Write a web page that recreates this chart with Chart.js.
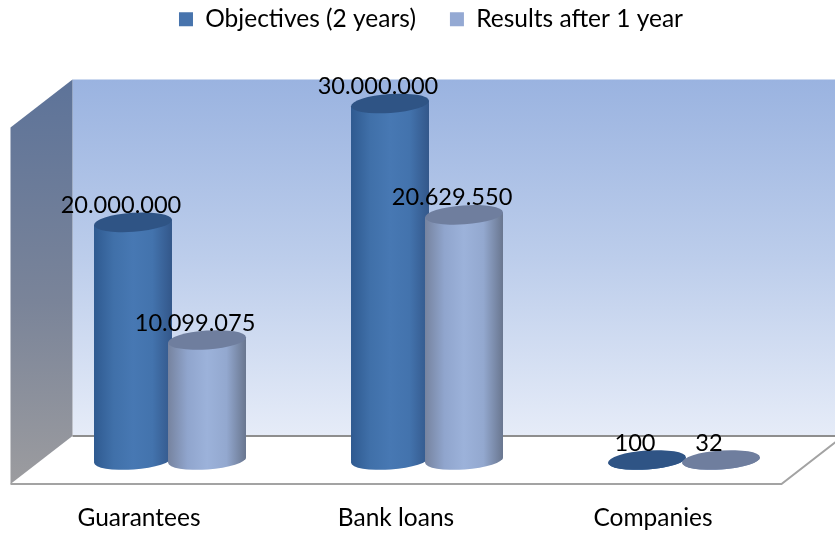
<!DOCTYPE html>
<html>
<head>
<meta charset="utf-8">
<style>
  html, body { margin: 0; padding: 0; background: #fff; }
  canvas { display: block; }
</style>
<script src="https://cdn.jsdelivr.net/npm/chart.js@4/dist/chart.umd.min.js"></script>
</head>
<body>
<canvas id="chart" width="835" height="533"></canvas>
<script>
const categories = ['Guarantees', 'Bank loans', 'Companies'];
const objectives = [20000000, 30000000, 100];
const results = [10099075, 20629550, 32];
const objectivesLabels = ['20.000.000', '30.000.000', '100'];
const resultsLabels = ['10.099.075', '20.629.550', '32'];

const FONT = 'Lato, "Open Sans", sans-serif';
const CATEGORY_PERCENT = 0.576;
const BAR_PERCENT = 1.055;
const DEPTH_X = 31;   // horizontal reach of the pseudo-3D box
const DEPTH_Y = 24;   // vertical reach of the pseudo-3D box
const CAP_RY = 9.5;
const CAP_TILT = -4 * Math.PI / 180;

const palettes = [
  { flat: '#4874ad', cap: '#2f5485', stops: ['#2f5a90', '#4070a9', '#4778b3', '#4373ad', '#33578a'] },
  { flat: '#94a9d3', cap: '#6f7e9e', stops: ['#76839f', '#90a5cd', '#9cb2da', '#93a8cf', '#69768f'] }
];

// Horizontal shading that gives each bar its rounded look
function cylinderFill(ctx) {
  const palette = palettes[ctx.datasetIndex];
  if (ctx.dataIndex === undefined) return palette.flat;
  const chart = ctx.chart;
  const xScale = chart.scales.x;
  if (!xScale) return palette.flat;
  const band = xScale.width / categories.length * CATEGORY_PERCENT / 2;
  const cx = xScale.getPixelForValue(ctx.dataIndex) + (ctx.datasetIndex - 0.5) * band;
  const half = band * BAR_PERCENT / 2;
  if (!Number.isFinite(cx) || !Number.isFinite(half)) return palette.flat;
  const g = chart.ctx.createLinearGradient(cx - half, 0, cx + half, 0);
  palette.stops.forEach((c, i) => g.addColorStop(i / (palette.stops.length - 1), c));
  return g;
}

// Back wall, side wall and floor around the plotting area
const boxPlugin = {
  id: 'box',
  beforeDraw(chart) {
    const { ctx, chartArea: a, width } = chart;
    const backLeft = a.left + DEPTH_X;
    const backRight = a.right + DEPTH_X;
    const frontLeft = a.left - DEPTH_X;
    const frontRight = a.right - DEPTH_X;
    const backTop = a.top - DEPTH_Y;
    const backBottom = a.bottom - DEPTH_Y;
    const frontTop = a.top + DEPTH_Y;
    const frontBottom = a.bottom + DEPTH_Y;

    ctx.save();
    const wall = ctx.createLinearGradient(0, backTop, 0, backBottom);
    wall.addColorStop(0, '#9ab3e0');
    wall.addColorStop(0.5, '#bccdeb');
    wall.addColorStop(1, '#e6ecf8');
    ctx.fillStyle = wall;
    ctx.fillRect(backLeft, backTop, width - backLeft, backBottom - backTop);

    const side = ctx.createLinearGradient(0, backTop, 0, frontBottom);
    side.addColorStop(0, '#5d7399');
    side.addColorStop(0.55, '#7a8499');
    side.addColorStop(1, '#9c9c9f');
    ctx.fillStyle = side;
    ctx.beginPath();
    ctx.moveTo(frontLeft, frontTop);
    ctx.lineTo(backLeft, backTop);
    ctx.lineTo(backLeft, backBottom);
    ctx.lineTo(frontLeft, frontBottom);
    ctx.closePath();
    ctx.fill();

    ctx.lineWidth = 2;
    ctx.strokeStyle = '#8e8e8e';
    ctx.beginPath();
    ctx.moveTo(backLeft, backBottom);
    ctx.lineTo(width, backBottom);
    ctx.stroke();

    ctx.strokeStyle = '#a3a3a3';
    ctx.beginPath();
    ctx.moveTo(frontLeft, frontBottom);
    ctx.lineTo(frontRight, frontBottom);
    ctx.lineTo(backRight, backBottom);
    ctx.stroke();
    ctx.restore();
  }
};

// Bars go back to front in series order: a clipped body plus a flat top ellipse
const cylinderPlugin = {
  id: 'cylinders',
  beforeDatasetsDraw(chart) {
    const { ctx, chartArea: a } = chart;
    chart.data.datasets.forEach((ds, di) => {
      chart.getDatasetMeta(di).data.forEach(bar => {
        const rx = bar.width / 2;
        const sx = rx * Math.cos(CAP_TILT);
        const sy = rx * Math.sin(CAP_TILT);
        ctx.save();
        const body = new Path2D();
        body.moveTo(bar.x - sx, bar.y - sy);
        body.lineTo(bar.x + sx, bar.y + sy);
        body.lineTo(bar.x + sx, bar.base + sy);
        body.ellipse(bar.x, bar.base, rx, CAP_RY, CAP_TILT, 0, Math.PI);
        body.closePath();
        ctx.fillStyle = bar.options.backgroundColor;
        ctx.fill(body);
        ctx.save();
        ctx.clip(body);
        bar.draw(ctx, a);
        ctx.restore();
        ctx.fillStyle = palettes[di].cap;
        ctx.beginPath();
        ctx.ellipse(bar.x, bar.y, rx, CAP_RY, CAP_TILT, 0, Math.PI * 2);
        ctx.fill();
        ctx.restore();
      });
    });
    return false;
  }
};

// Printed values sit just above and slightly left of each bar top
const valueLabelPlugin = {
  id: 'valueLabels',
  afterDraw(chart) {
    const { ctx } = chart;
    const sets = [objectivesLabels, resultsLabels];
    ctx.save();
    ctx.font = '23.6px ' + FONT;
    ctx.fillStyle = '#000';
    ctx.textAlign = 'center';
    ctx.textBaseline = 'middle';
    sets.forEach((texts, di) => {
      chart.getDatasetMeta(di).data.forEach((bar, i) => {
        ctx.fillText(texts[i], bar.x - 12, bar.y - 17);
      });
    });
    ctx.restore();
  }
};

// Legend sizing: reserve the band above the box and nudge the entries into place
const legendPlacement = {
  id: 'legendPlacement',
  beforeLayout(chart) {
    const legend = chart.legend;
    if (legend.bandFitted) return;
    const fit = legend.fit;
    legend.fit = function () {
      fit.call(this);
      this.height = 103.5;
    };
    legend.bandFitted = true;
  },
  afterLayout(chart) {
    chart.legend.left += 8;
    chart.legend.top -= 27;
  }
};

new Chart(document.getElementById('chart'), {
  type: 'bar',
  data: {
    labels: categories,
    datasets: [
      { label: 'Objectives (2 years)', data: objectives, backgroundColor: cylinderFill,
        categoryPercentage: CATEGORY_PERCENT, barPercentage: BAR_PERCENT, borderWidth: 0 },
      { label: 'Results after 1 year', data: results, backgroundColor: cylinderFill,
        categoryPercentage: CATEGORY_PERCENT, barPercentage: BAR_PERCENT, borderWidth: 0 }
    ]
  },
  options: {
    responsive: false,
    animation: false,
    layout: { padding: { left: 41.5, right: 22.5, top: 0, bottom: 0 } },
    plugins: {
      legend: {
        position: 'top',
        labels: {
          color: '#000',
          boxWidth: 14,
          boxHeight: 14,
          padding: 34,
          font: { family: FONT, size: 24.5 },
          generateLabels(chart) {
            return Chart.defaults.plugins.legend.labels.generateLabels(chart).map((item, i) =>
              Object.assign(item, { fillStyle: palettes[i].flat, lineWidth: 0 }));
          }
        }
      },
      tooltip: { enabled: false }
    },
    scales: {
      x: {
        grid: { display: false, drawTicks: false },
        border: { display: false },
        afterFit(scale) { scale.height = 73; },
        ticks: {
          color: '#000',
          padding: 43,
          labelOffset: -DEPTH_X,
          maxRotation: 0,
          font: { family: FONT, size: 24.5 }
        }
      },
      y: { display: false, min: 0, max: 30000000 }
    }
  },
  plugins: [legendPlacement, boxPlugin, cylinderPlugin, valueLabelPlugin]
});
</script>
</body>
</html>
